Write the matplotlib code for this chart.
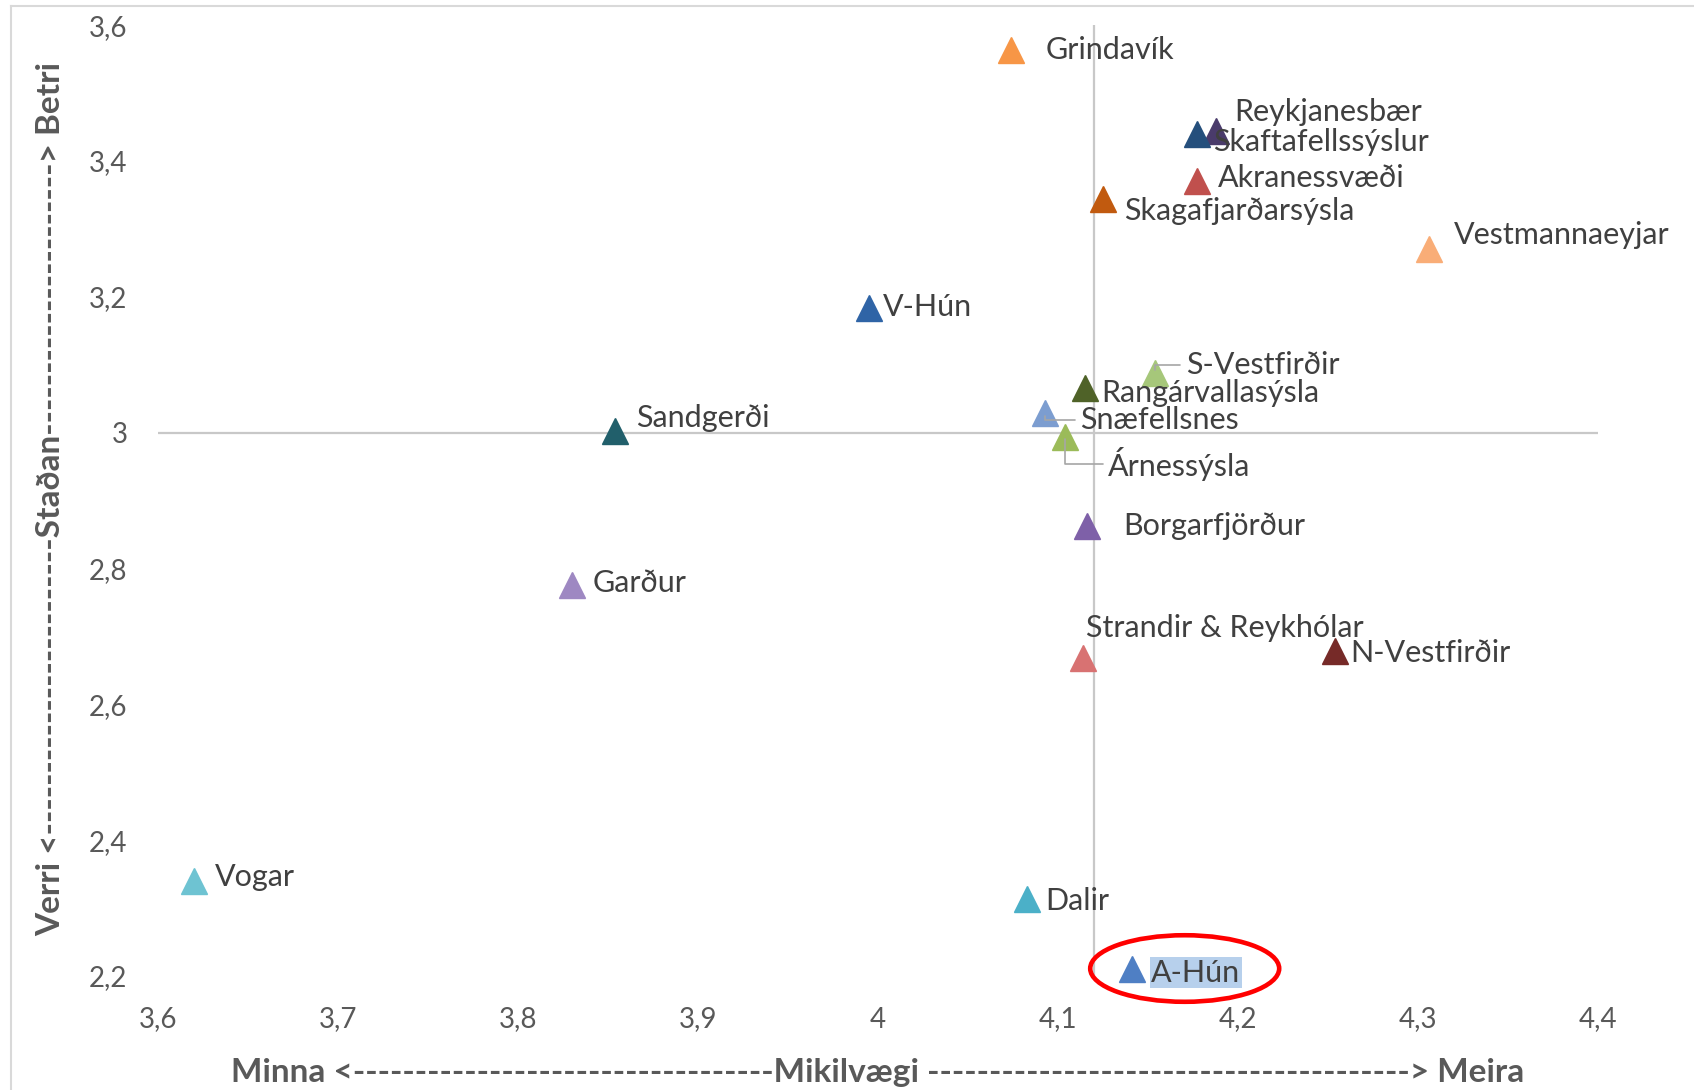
import matplotlib.pyplot as plt
from matplotlib.patches import Ellipse
import numpy as np

plt.rcParams["font.family"] = ["Lato", "DejaVu Sans"]

# --- data: Mikilvægi (x) og Staðan (y) eftir svæðum ---
names = [
    "Grindavík", "Reykjanesbær", "Skaftafellssýslur", "Akranessvæði",
    "Skagafjarðarsýsla", "Vestmannaeyjar", "V-Hún", "S-Vestfirðir",
    "Rangárvallasýsla", "Snæfellsnes", "Árnessýsla", "Sandgerði",
    "Borgarfjörður", "Garður", "Strandir & Reykhólar", "N-Vestfirðir",
    "Vogar", "Dalir", "A-Hún",
]
mikilvaegi = [
    4.074, 4.188, 4.177, 4.177, 4.125, 4.306, 3.995, 4.154,
    4.115, 4.093, 4.104, 3.854, 4.116, 3.830, 4.114, 4.254,
    3.620, 4.083, 4.141,
]
stadan = [
    3.563, 3.444, 3.440, 3.371, 3.344, 3.271, 3.183, 3.088,
    3.065, 3.029, 2.994, 3.003, 2.862, 2.776, 2.668, 2.679,
    2.340, 2.313, 2.211,
]
colors = [
    "#f79646", "#4a3b6b", "#254f7c", "#c0504d", "#c15a0f", "#f9ad77",
    "#2f64a6", "#a6c77a", "#4f6228", "#7c9dd0", "#9bbb59", "#215f6b",
    "#7e60a8", "#9e88c2", "#d87272", "#762a28", "#6ec3d2", "#4bb0c8",
    "#4f7fc4",
]
x_ticks = [3.6, 3.7, 3.8, 3.9, 4.0, 4.1, 4.2, 4.3, 4.4]
y_ticks = [2.2, 2.4, 2.6, 2.8, 3.0, 3.2, 3.4, 3.6]
x_cross = 4.12
y_cross = 3.0

# label offsets (points) relative to each marker
offsets = {
    "Grindavík": (25, 0), "Reykjanesbær": (13, 14), "Skaftafellssýslur": (12, -6),
    "Akranessvæði": (15, 2), "Skagafjarðarsýsla": (15, -9), "Vestmannaeyjar": (18, 10),
    "V-Hún": (10, 1), "S-Vestfirðir": (22, 6), "Rangárvallasýsla": (12, -3),
    "Snæfellsnes": (25, -5), "Árnessýsla": (31, -20), "Sandgerði": (15, 9),
    "Borgarfjörður": (26, 0), "Garður": (15, 1), "Strandir & Reykhólar": (2, 22),
    "N-Vestfirðir": (11, -2), "Vogar": (15, 3), "Dalir": (13, -1), "A-Hún": (14, -3),
}
leaders = {"S-Vestfirðir", "Snæfellsnes", "Árnessýsla"}


def fmt(v):
    s = f"{v:g}"
    return s.replace(".", ",")


fig = plt.figure(figsize=(16.94, 10.9), dpi=100)
ax = fig.add_axes([0.0933, 0.1046, 0.85, 0.8724])

ax.axhline(y_cross, color="#c8c8c8", lw=1.6, zorder=1)
ax.axvline(x_cross, color="#c8c8c8", lw=1.6, zorder=1)

for n, x, y, c in zip(names, mikilvaegi, stadan, colors):
    ax.plot(x, y, marker="^", ms=19, color=c, mec=c, ls="none", zorder=3, clip_on=False)
    dx, dy = offsets[n]
    kw = dict(xy=(x, y), xytext=(dx, dy), textcoords="offset points",
              ha="left", va="center", fontsize=22, color="#404040", zorder=4)
    if n in leaders:
        kw["arrowprops"] = dict(arrowstyle="-", color="#a6a6a6", lw=1.2,
                                shrinkA=2, shrinkB=2,
                                connectionstyle="angle,angleA=0,angleB=90,rad=0")
    if n == "A-Hún":
        kw["bbox"] = dict(boxstyle="square,pad=0.05", fc="#b7d0ec", ec="none")
    ax.annotate(n, **kw)

# red ring around A-Hún
i = names.index("A-Hún")
ring = Ellipse((mikilvaegi[i] + 0.0294, stadan[i]), 0.105, 0.098,
               fill=False, ec="#ff0000", lw=3.3, zorder=5, clip_on=False)
ax.add_patch(ring)

ax.set_xlim(x_ticks[0], x_ticks[-1])
ax.set_ylim(y_ticks[0], y_ticks[-1])
ax.set_xticks(x_ticks)
ax.set_xticklabels([fmt(v) for v in x_ticks])
ax.set_yticks(y_ticks)
ax.set_yticklabels([fmt(v) for v in y_ticks])
ax.tick_params(length=0, labelsize=20, labelcolor="#595959")
ax.tick_params(axis="y", pad=22)
ax.tick_params(axis="x", pad=22)
for s in ax.spines.values():
    s.set_visible(False)

fig.text(0.518, 0.0165, "Minna <" + "-" * 34 + "Mikilvægi " + "-" * 39 + "> Meira",
         ha="center", va="center", fontsize=24, fontweight="bold", color="#595959")
fig.text(0.030, 0.542, "Verri <" + "-" * 24 + "Staðan" + "-" * 22 + "> Betri",
         ha="center", va="center", rotation=90, fontsize=24, fontweight="bold",
         color="#595959")

# chart area border
fig.add_artist(plt.Line2D([0.0065, 0.0065], [0, 0.9945], color="#d9d9d9", lw=1.5))
fig.add_artist(plt.Line2D([0.0065, 1], [0.9945, 0.9945], color="#d9d9d9", lw=1.5))

fig.savefig("out.png", dpi=100)
